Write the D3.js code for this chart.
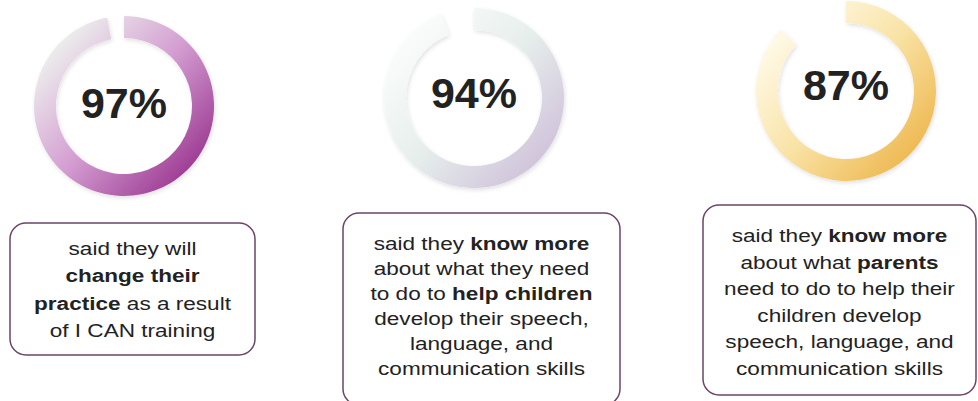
<!DOCTYPE html>
<meta charset="utf-8">
<style>
body { margin: 0; background: #fff; }
text { font-family: "Liberation Sans", Arial, sans-serif; fill: #222; }
</style>
<body>
<script src="https://d3js.org/d3.v7.min.js"></script>
<script>

var w = 978, h = 401;

// percentages shown in the rings
var values = [97, 94, 87];
var ringLight = ["#eef2ee", "#fbfdfc", "#fffbec"];
var ringMid = ["#d49ed2", "#e6eeec", "#f9e3a6"];
var ringDark = ["#9c3a92", "#d0c2da", "#eeb850"];

// box captions, **text** is bold
var captions = [
    ["said they will", "**change their**", "**practice** as a result", "of I CAN training"],
    ["said they **know more**", "about what they need", "to do to **help children**", "develop their speech,", "language, and", "communication skills"],
    ["said they **know more**", "about what **parents**", "need to do to help their", "children develop", "speech, language, and", "communication skills"]
];

// layout per panel
var rings = [{cx: 124, cy: 106, ty: 118}, {cx: 474, cy: 98, ty: 108}, {cx: 846, cy: 91, ty: 100}];
var boxes = [
    {x: 10, y: 223, w: 245, h: 132, top: 255, lh: 27.3},
    {x: 343, y: 213, w: 277, h: 192, top: 250, lh: 25},
    {x: 703, y: 205, w: 273, h: 190, top: 242, lh: 26.6}
];

var svg = d3.select("body").append("svg")
    .attr("width", w)
    .attr("height", h);

var defs = svg.append("defs");

var shadow = defs.append("filter").attr("id", "shadow")
    .attr("x", "-20%").attr("y", "-20%").attr("width", "140%").attr("height", "140%");
shadow.append("feDropShadow")
    .attr("dx", 1).attr("dy", 2).attr("stdDeviation", 2)
    .attr("flood-color", "#000").attr("flood-opacity", 0.12);

var angle = d3.scaleLinear().domain([0, 100]).range([0, 2 * Math.PI]);

var arc = d3.arc()
    .innerRadius(68)
    .outerRadius(90)
    .startAngle(0)
    .endAngle(function(d) { return angle(d); });

values.forEach(function(v, i) {
    var r = rings[i];
    // gradient in the ring's own (translated) coordinates
    var grad = defs.append("linearGradient")
        .attr("id", "g" + i)
        .attr("gradientUnits", "userSpaceOnUse")
        .attr("x1", -75).attr("y1", -60)
        .attr("x2", 65).attr("y2", 70);
    grad.append("stop").attr("offset", 0).attr("stop-color", ringLight[i]);
    grad.append("stop").attr("offset", 0.5).attr("stop-color", ringMid[i]);
    grad.append("stop").attr("offset", 1).attr("stop-color", ringDark[i]);

    var g = svg.append("g").attr("transform", "translate(" + r.cx + "," + r.cy + ")");
    g.append("path")
        .attr("d", arc(v))
        .attr("fill", "url(#g" + i + ")")
        .attr("filter", "url(#shadow)");

    svg.append("text")
        .attr("x", r.cx)
        .attr("y", r.ty)
        .attr("text-anchor", "middle")
        .attr("font-size", 43)
        .attr("font-weight", "bold")
        .text(v + "%");
});

captions.forEach(function(lines, i) {
    var b = boxes[i];
    svg.append("rect")
        .attr("x", b.x).attr("y", b.y)
        .attr("width", b.w).attr("height", b.h)
        .attr("rx", 16).attr("ry", 16)
        .attr("fill", "#fff")
        .attr("stroke", "#6b4468")
        .attr("stroke-width", 1.5);

    lines.forEach(function(line, j) {
        // the source text is stretched wide, so scale it horizontally
        var t = svg.append("text")
            .attr("transform", "translate(" + (b.x + b.w / 2) + "," + (b.top + j * b.lh) + ") scale(1.22,1)")
            .attr("text-anchor", "middle")
            .attr("font-size", 18.5);
        line.split("**").forEach(function(part, k) {
            if (part === "") return;
            t.append("tspan")
                .attr("font-weight", k % 2 ? "bold" : "normal")
                .text(part);
        });
    });
});

</script>
</body>
